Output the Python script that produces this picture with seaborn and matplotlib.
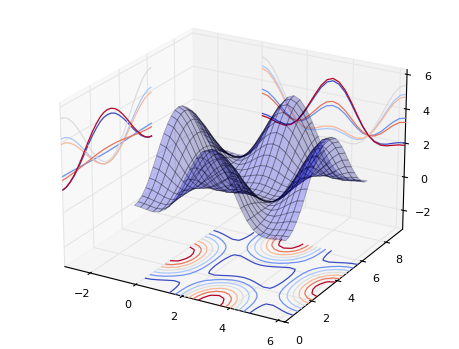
# plot.py
import numpy as np
import matplotlib
matplotlib.use('Agg')
import matplotlib.pyplot as plt
import seaborn as sns

# ejes de la malla
x_values = [0.00, 0.26, 0.52, 0.79, 1.05, 1.31, 1.57, 1.83, 2.09, 2.36, 2.62, 2.88, 3.14,
            3.40, 3.67, 3.93, 4.19, 4.45, 4.71, 4.97, 5.24, 5.50, 5.76, 6.02, 6.28]
y_values = [0.00, 0.26, 0.52, 0.79, 1.05, 1.31, 1.57, 1.83, 2.09, 2.36, 2.62, 2.88, 3.14,
            3.40, 3.67, 3.93, 4.19, 4.45, 4.71, 4.97, 5.24, 5.50, 5.76, 6.02, 6.28]

# altura de la superficie, una lista por cada fila de y
row_00 = [1.40, 1.37, 1.32, 1.29, 1.35, 1.58, 2.00, 2.61, 3.35, 4.11, 4.78, 5.24, 5.40, 5.24, 4.78, 4.11, 3.35, 2.61, 2.00, 1.58, 1.35, 1.29, 1.32, 1.37, 1.40]
row_01 = [1.47, 1.44, 1.38, 1.33, 1.38, 1.59, 2.00, 2.59, 3.32, 4.07, 4.72, 5.17, 5.33, 5.17, 4.72, 4.07, 3.32, 2.59, 2.00, 1.59, 1.38, 1.33, 1.38, 1.44, 1.47]
row_02 = [1.67, 1.63, 1.55, 1.48, 1.48, 1.65, 2.00, 2.54, 3.22, 3.93, 4.55, 4.98, 5.13, 4.98, 4.55, 3.93, 3.22, 2.54, 2.00, 1.65, 1.48, 1.48, 1.55, 1.63, 1.67]
row_03 = [1.99, 1.94, 1.83, 1.70, 1.64, 1.73, 2.00, 2.46, 3.06, 3.70, 4.28, 4.67, 4.81, 4.67, 4.28, 3.70, 3.06, 2.46, 2.00, 1.73, 1.64, 1.70, 1.83, 1.94, 1.99]
row_04 = [2.40, 2.34, 2.18, 1.99, 1.85, 1.84, 2.00, 2.35, 2.85, 3.41, 3.92, 4.27, 4.40, 4.27, 3.92, 3.41, 2.85, 2.35, 2.00, 1.84, 1.85, 1.99, 2.18, 2.34, 2.40]
row_05 = [2.88, 2.81, 2.60, 2.33, 2.09, 1.96, 2.00, 2.23, 2.61, 3.07, 3.50, 3.81, 3.92, 3.81, 3.50, 3.07, 2.61, 2.23, 2.00, 1.96, 2.09, 2.33, 2.60, 2.81, 2.88]
row_06 = [3.40, 3.31, 3.05, 2.70, 2.35, 2.09, 2.00, 2.09, 2.35, 2.70, 3.05, 3.31, 3.40, 3.31, 3.05, 2.70, 2.35, 2.09, 2.00, 2.09, 2.35, 2.70, 3.05, 3.31, 3.40]
row_07 = [3.92, 3.81, 3.50, 3.07, 2.61, 2.23, 2.00, 1.96, 2.09, 2.33, 2.60, 2.81, 2.88, 2.81, 2.60, 2.33, 2.09, 1.96, 2.00, 2.23, 2.61, 3.07, 3.50, 3.81, 3.92]
row_08 = [4.40, 4.27, 3.92, 3.41, 2.85, 2.35, 2.00, 1.84, 1.85, 1.99, 2.18, 2.34, 2.40, 2.34, 2.18, 1.99, 1.85, 1.84, 2.00, 2.35, 2.85, 3.41, 3.92, 4.27, 4.40]
row_09 = [4.81, 4.67, 4.28, 3.70, 3.06, 2.46, 2.00, 1.73, 1.64, 1.70, 1.83, 1.94, 1.99, 1.94, 1.83, 1.70, 1.64, 1.73, 2.00, 2.46, 3.06, 3.70, 4.28, 4.67, 4.81]
row_10 = [5.13, 4.98, 4.55, 3.93, 3.22, 2.54, 2.00, 1.65, 1.48, 1.48, 1.55, 1.63, 1.67, 1.63, 1.55, 1.48, 1.48, 1.65, 2.00, 2.54, 3.22, 3.93, 4.55, 4.98, 5.13]
row_11 = [5.33, 5.17, 4.72, 4.07, 3.32, 2.59, 2.00, 1.59, 1.38, 1.33, 1.38, 1.44, 1.47, 1.44, 1.38, 1.33, 1.38, 1.59, 2.00, 2.59, 3.32, 4.07, 4.72, 5.17, 5.33]
row_12 = [5.40, 5.24, 4.78, 4.11, 3.35, 2.61, 2.00, 1.58, 1.35, 1.29, 1.32, 1.37, 1.40, 1.37, 1.32, 1.29, 1.35, 1.58, 2.00, 2.61, 3.35, 4.11, 4.78, 5.24, 5.40]

# niveles de los contornos, cada pared tiene los suyos
z_levels = [1.80, 2.31, 2.83, 3.34, 3.86, 4.37, 4.89]
x_levels = [0.8, 1.6, 2.4, 3.2, 4.0, 4.8, 5.6]
y_levels = [0.8, 1.6, 2.4, 3.2, 4.0, 4.8, 5.6]

x_ticks = [-2, 0, 2, 4, 6]
y_ticks = [0, 2, 4, 6, 8]
z_ticks = [-2, 0, 2, 4, 6]

# limites de los ejes y paredes donde se proyectan los contornos
x_wall = -3.14
y_wall = 9.42
z_floor = -3.14
z_top = 6.28

sns.set_style('white', {'grid.color': '0.9', 'axes.edgecolor': 'black', 'text.color': 'black',
                        'xtick.color': 'black', 'ytick.color': 'black', 'axes.labelcolor': 'black'})
plt.rcParams['font.family'] = 'DejaVu Sans'
plt.rcParams['font.size'] = 8

z_grid = np.array([row_00, row_01, row_02, row_03, row_04, row_05, row_06, row_07, row_08, row_09,
                   row_10, row_11, row_12, row_11, row_10, row_09, row_08, row_07, row_06, row_05,
                   row_04, row_03, row_02, row_01, row_00])
x_grid, y_grid = np.meshgrid(x_values, y_values)
coolwarm = sns.color_palette('coolwarm', as_cmap=True)

fig = plt.figure(figsize=(4.60, 3.49), dpi=100)
ax = fig.add_axes([0.004, 0.006, 1, 1], projection='3d')
ax.view_init(elev=22.5, azim=-60)
ax.set_proj_type('persp', focal_length=1.3)
ax.set_box_aspect((1.33, 1.33, 0.93), zoom=1.10)

ax.plot_surface(x_grid, y_grid, z_grid, rstride=1, cstride=1, color='b', alpha=0.25,
                edgecolor='black', linewidth=0.6)
ax.contour(x_grid, y_grid, z_grid, levels=z_levels, zdir='z', offset=z_floor, cmap=coolwarm, linewidths=0.9)
ax.contour(x_grid, y_grid, z_grid, levels=x_levels, zdir='x', offset=x_wall, cmap=coolwarm, linewidths=0.9)
ax.contour(x_grid, y_grid, z_grid, levels=y_levels, zdir='y', offset=y_wall, cmap=coolwarm, linewidths=0.9)

ax.set_xlim(x_wall, 6.28)
ax.set_ylim(0, y_wall)
ax.set_zlim(z_floor, z_top)
ax.set_xticks(x_ticks)
ax.set_yticks(y_ticks)
ax.set_zticks(z_ticks)
ax.tick_params(labelsize=8, pad=0)

fig.savefig('out.png', dpi=100)
